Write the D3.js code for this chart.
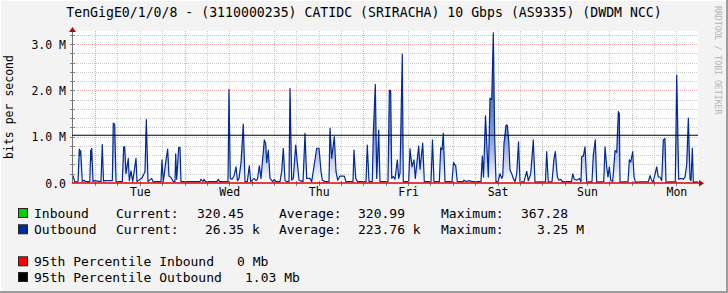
<!DOCTYPE html>
<html><head><meta charset="utf-8">
<script src="https://cdn.jsdelivr.net/npm/d3@7"></script>
<style>
html,body{margin:0;padding:0;background:#f3f3f3;}
svg{display:block;}
text{font-family:"DejaVu Sans Mono",monospace;}
</style></head><body>
<svg id="c" width="728" height="293"></svg>
<script>
// ---------------- data ----------------
const title = "TenGigE0/1/0/8 - (3110000235) CATIDC (SRIRACHA) 10 Gbps (AS9335) (DWDM NCC)";
const yAxisTitle = "bits per second";
const dayLabels = ["Tue","Wed","Thu","Fri","Sat","Sun","Mon"];
const firstMidnightHour = 6.2;   // hours after the start of the graph
const spanHours = 168;
const yTickValues = [0, 1, 2, 3];
const yTickLabels = ["0.0", "1.0 M", "2.0 M", "3.0 M"];
// outbound traffic: [hours since start, Mbit/s]
const outbound = [
[0,0.19],[0.27,0.15],[0.8,0.02],[1.61,0.03],[1.96,0.73],[2.15,0.6],[2.33,0.7],[2.76,0.03],[3.3,0.06],[3.62,0.03],
[4.78,0.03],[5.02,0.71],[5.15,0.5],[5.29,0.75],[5.64,0.03],[5.9,0.05],[7.78,0.03],[8.13,0.83],[8.45,0.04],[8.86,0.05],
[10.82,0.05],[11.08,1.29],[11.46,1.27],[11.81,0.03],[13.5,0.03],[13.87,0.78],[14.14,0.78],[14.49,0.2],[15.11,0.53],[15.38,0.05],
[15.83,0.26],[16.29,0.03],[17.18,0.53],[17.44,0.03],[18.7,0.1],[19.32,0.2],[19.59,0.25],[19.94,1.37],[20.4,0.03],[21.39,0.1],
[21.74,0.03],[23.88,0.03],[24.15,0.5],[24.5,0.03],[25.23,0.5],[25.68,0.73],[26.03,0.15],[26.57,0.12],[27.19,0.03],[27.64,0.03],
[27.83,0.63],[28.1,0.08],[28.63,0.77],[28.98,0.77],[29.25,0.03],[34.35,0.03],[34.62,0.08],[35.16,0.03],[35.42,0.08],[35.83,0.03],
[38.91,0.03],[39.26,0.08],[39.59,0.03],[41.87,0.03],[42.13,2.02],[42.48,0.1],[42.94,0.08],[43.48,0.15],[44.01,0.35],[44.42,0.05],
[44.82,0.1],[45.36,0.44],[45.97,1.27],[46.43,0.03],[47.05,0.03],[47.58,0.37],[47.96,0.03],[48.84,0.1],[49.38,0.05],[49.78,0.08],
[50.27,0.37],[50.72,0.1],[51.61,0.93],[51.98,0.86],[52.25,0.44],[52.68,0.71],[53.14,0.1],[53.86,0.03],[54.29,0.08],[54.75,0.03],
[55.82,0.03],[56.28,0.25],[56.71,0.75],[57.16,0.06],[57.62,0.03],[58.24,0.03],[58.51,2.04],[58.96,0.06],[59.39,0.1],[60.04,0.82],
[60.47,0.44],[60.93,0.06],[62.0,0.03],[62.53,1.07],[62.99,0.1],[63.87,0.1],[64.33,0.03],[65.67,0.75],[66.29,0.75],[66.83,0.25],
[67.18,0.06],[67.9,0.03],[68.97,0.03],[69.24,1.18],[69.7,0.53],[70.4,1.0],[70.85,0.25],[71.31,0.06],[71.93,0.15],[73.08,0.15],
[73.53,0.03],[75.41,0.03],[75.68,0.71],[76.14,0.1],[76.62,0.03],[78.9,0.03],[79.25,0.82],[79.71,0.03],[80.59,0.03],[80.86,1.07],
[81.4,2.13],[81.78,0.1],[82.31,1.14],[82.66,0.03],[84.81,0.03],[85.16,2.0],[85.53,2.0],[85.8,0.1],[86.23,0.14],[86.69,0.08],
[87.3,0.5],[87.68,0.1],[88.02,0.21],[88.64,2.78],[88.91,0.03],[90.36,0.03],[90.71,0.74],[91.24,0.35],[91.78,0.5],[92.13,0.1],
[93.04,0.8],[93.39,0.3],[94.12,0.86],[94.55,0.03],[96.35,0.03],[96.75,0.93],[97.15,0.03],[98.58,0.03],[98.95,0.76],[99.3,0.72],
[99.65,1.07],[100.1,0.03],[101.98,0.03],[102.39,0.44],[102.98,0.37],[103.4,0.03],[104.93,0.03],[105.2,0.06],[105.74,0.03],[106.54,0.05],
[107.35,0.03],[109.76,0.03],[110.11,0.58],[110.43,0.13],[110.97,1.45],[111.46,0.61],[111.73,0.13],[112.18,1.83],[112.64,1.8],[113.07,3.24],
[113.44,0.97],[113.79,0.02],[114.33,0.03],[114.87,0.2],[115.33,0.1],[115.6,0.15],[115.94,0.86],[116.48,1.25],[116.83,1.25],[117.21,0.9],
[117.55,0.28],[118.01,0.2],[118.44,0.1],[118.9,0.03],[119.35,0.2],[119.83,0.89],[120.23,0.02],[121.3,0.03],[122.03,0.25],[122.46,0.05],
[123.1,0.2],[123.8,0.93],[124.26,0.02],[127.07,0.03],[127.39,0.68],[127.82,0.02],[128.82,0.03],[129.36,0.53],[129.71,0.68],[130.25,0.13],
[130.71,0.06],[131.16,0.08],[131.59,0.03],[134.06,0.03],[134.38,0.2],[134.81,0.08],[135.45,0.06],[136.15,0.1],[136.6,0.03],[136.79,0.57],
[137.22,0.58],[137.68,0.78],[138.13,0.02],[139.55,0.03],[139.9,0.6],[140.44,0.93],[140.82,0.02],[142.7,0.03],[143.05,0.78],[143.5,0.35],
[143.85,0.13],[144.2,0.35],[144.58,0.06],[145.11,0.03],[145.73,0.7],[146.19,0.66],[146.62,1.54],[146.88,1.5],[147.07,0.02],[149.22,0.03],
[149.57,0.5],[149.94,0.45],[150.48,0.68],[150.83,0.13],[151.18,0.02],[154.67,0.03],[155.13,0.16],[155.58,0.05],[156.0,0.03],[156.92,0.35],
[157.35,0.13],[157.8,0.13],[158.26,0.05],[158.69,0.93],[159.14,0.96],[159.41,0.02],[161.91,0.03],[162.29,2.33],[162.82,0.08],[163.44,0.1],
[164.06,0.08],[164.52,0.13],[164.97,0.4],[165.41,1.4],[165.87,0.08],[166.13,0.05],[166.48,0.75],[166.75,0.02],[168.0,0.026]
];
// inbound traffic is ~320 bit/s (Mbit/s here)
const inbound = [[0,0.00032],[168,0.00032]];
const pct95Inbound = 0;      // Mb
const pct95Outbound = 1.03;  // Mb
const statLabels = ["Current:", "Average:", "Maximum:"];
const inboundStats = ["320.45", "320.99", "367.28"];
const outboundStats = ["26.35 k", "223.76 k", "3.25 M"];
const seriesNames = ["Inbound", "Outbound"];
const pctNames = ["95th Percentile Inbound", "95th Percentile Outbound"];
const pctTexts = ["0 Mb", "1.03 Mb"];
const colors = {inbound:"#00CF00", outbound:"#002A97", pctIn:"#FF0000", pctOut:"#000000"};

// ---------------- layout ----------------
const W = 728, H = 293;
const L = 72, R = 698, T = 31, B = 183;
const svg = d3.select("#c");

svg.append("rect").attr("x",0).attr("y",0).attr("width",W).attr("height",H).attr("fill","#f3f3f3");
// 3D frame
svg.append("rect").attr("x",0).attr("y",H-2).attr("width",W).attr("height",2).attr("fill","#9c9c9c");
svg.append("rect").attr("x",W-2).attr("y",0).attr("width",2).attr("height",H).attr("fill","#9c9c9c");
svg.append("rect").attr("x",0).attr("y",0).attr("width",W-2).attr("height",1).attr("fill","#ffffff");
svg.append("rect").attr("x",0).attr("y",0).attr("width",1).attr("height",H-2).attr("fill","#ffffff");

const x = d3.scaleLinear().domain([0, spanHours]).range([L, R]);
const y = d3.scaleLinear().domain([0, 3.28]).range([B, T]);

// plot background
svg.append("rect").attr("x",L).attr("y",T).attr("width",R-L).attr("height",B-T).attr("fill","#ffffff");

// grid
const g = svg.append("g").attr("shape-rendering","crispEdges");
const minorY = d3.range(1,17).map(i=>i*0.2).filter(v=>Math.abs(v-Math.round(v))>1e-6);
const majorY = [1,2,3];
minorY.forEach(v=>{
  g.append("line").attr("x1",L).attr("x2",R).attr("y1",Math.round(y(v))+0.5).attr("y2",Math.round(y(v))+0.5)
   .attr("stroke","#c8c8c8").attr("stroke-dasharray","1,1");
});
const vMinor = [], vMajor = [];
for (let h = firstMidnightHour - 6; h < spanHours; h += 6) {
  if (h < 1) continue;
  const k = Math.round((h - firstMidnightHour)/6);
  if (k % 4 === 0) vMajor.push(h); else vMinor.push(h);
}
vMinor.forEach(h=>{
  g.append("line").attr("x1",Math.round(x(h))+0.5).attr("x2",Math.round(x(h))+0.5).attr("y1",T).attr("y2",B)
   .attr("stroke","#c8c8c8").attr("stroke-dasharray","1,1");
});
majorY.forEach(v=>{
  g.append("line").attr("x1",L).attr("x2",R).attr("y1",Math.round(y(v))+0.5).attr("y2",Math.round(y(v))+0.5)
   .attr("stroke","#eaa8a8").attr("stroke-dasharray","1,1");
});
vMajor.forEach(h=>{
  g.append("line").attr("x1",Math.round(x(h))+0.5).attr("x2",Math.round(x(h))+0.5).attr("y1",T).attr("y2",B)
   .attr("stroke","#eaa8a8").attr("stroke-dasharray","1,1");
});

// gradient for outbound area
const defs = svg.append("defs");
const grad = defs.append("linearGradient").attr("id","og").attr("gradientUnits","userSpaceOnUse")
  .attr("x1",0).attr("y1",B).attr("x2",0).attr("y2",T);
grad.append("stop").attr("offset","0").attr("stop-color","#ffffff");
grad.append("stop").attr("offset","0.3").attr("stop-color","#8a9ed6");
grad.append("stop").attr("offset","1").attr("stop-color","#12359f");

// inbound (green, tiny)
svg.append("path").datum(inbound)
  .attr("d", d3.area().x(d=>x(d[0])).y0(y(0)).y1(d=>y(d[1])))
  .attr("fill", colors.inbound);

// outbound area + line
svg.append("path").datum(outbound)
  .attr("d", d3.area().x(d=>x(d[0])).y0(y(0)).y1(d=>y(d[1])))
  .attr("fill","url(#og)");
svg.append("path").datum(outbound)
  .attr("d", d3.line().x(d=>x(d[0])).y(d=>y(d[1])))
  .attr("fill","none").attr("stroke",colors.outbound).attr("stroke-width",1.2).attr("stroke-linejoin","round");

// y axis line + ticks
svg.append("line").attr("x1",L+0.5).attr("x2",L+0.5).attr("y1",B).attr("y2",T-2)
  .attr("stroke","#707070").attr("shape-rendering","crispEdges");
d3.range(1,17).map(i=>i*0.2).forEach(v=>{
  svg.append("line").attr("x1",L-2).attr("x2",L+3).attr("y1",Math.round(y(v))+0.5).attr("y2",Math.round(y(v))+0.5)
   .attr("stroke","#808080").attr("shape-rendering","crispEdges");
});
vMinor.concat(vMajor).forEach(h=>{
  svg.append("line").attr("x1",Math.round(x(h))+0.5).attr("x2",Math.round(x(h))+0.5).attr("y1",B-2).attr("y2",B+3)
   .attr("stroke","#808080").attr("shape-rendering","crispEdges");
});

// percentile lines
svg.append("line").attr("x1",L).attr("x2",R).attr("y1",y(pct95Outbound)).attr("y2",y(pct95Outbound))
  .attr("stroke",colors.pctOut).attr("stroke-width",1.2);
svg.append("line").attr("x1",L).attr("x2",R+2).attr("y1",y(pct95Inbound)).attr("y2",y(pct95Inbound))
  .attr("stroke","#e00000").attr("stroke-width",1.6);

// arrows
svg.append("path").attr("d",`M${L-3},${T+1}L${L+4},${T+1}L${L+0.5},${T-4}Z`).attr("fill","#a01010");
svg.append("path").attr("d",`M${R+1},${B-3}L${R+1},${B+3.5}L${R+6},${B+0.25}Z`).attr("fill","#a01010");

// axes labels via d3 axes
const yAxis = d3.axisLeft(y).tickValues(yTickValues).tickSize(0).tickPadding(0)
  .tickFormat((d,i)=>yTickLabels[i]);
const ya = svg.append("g").attr("transform",`translate(${L-6},0)`).call(yAxis);
ya.select(".domain").remove();
ya.selectAll("text").attr("font-family","DejaVu Sans Mono").attr("font-size","11.5px").attr("fill","#000").attr("dy","0.36em");

const dayCenters = dayLabels.map((d,i)=>firstMidnightHour + 24*i + 12);
const xAxis = d3.axisBottom(x).tickValues(dayCenters).tickSize(0).tickPadding(0)
  .tickFormat((d,i)=>dayLabels[i]);
const xa = svg.append("g").attr("transform",`translate(0,${B+5})`).call(xAxis);
xa.select(".domain").remove();
xa.selectAll("text").attr("font-family","DejaVu Sans Mono").attr("font-size","11.5px").attr("fill","#000").attr("dy","0.71em");

// title
svg.append("text").attr("x",364).attr("y",17.3).attr("text-anchor","middle")
  .attr("font-size","13.2px").attr("fill","#000").text(title);
// y title
svg.append("text").attr("transform","translate(13,107) rotate(-90)").attr("text-anchor","middle")
  .attr("font-size","11.5px").attr("fill","#000").text(yAxisTitle);
// watermark
svg.append("text").attr("transform","translate(714.5,6) rotate(90)").attr("text-anchor","start")
  .attr("font-size","8.2px").attr("fill","#b4b4b4").text("RRDTOOL / TOBI OETIKER");

// legend
const lf = "13px";
function box(yTop, color){
  svg.append("rect").attr("x",18.5).attr("y",yTop+0.5).attr("width",9).attr("height",9)
    .attr("fill",color).attr("stroke","#222").attr("stroke-width",1);
}
function txt(xp, yp, s){
  svg.append("text").attr("x",xp).attr("y",yp).attr("font-size",lf).attr("fill","#000")
    .attr("xml:space","preserve").style("white-space","pre").text(s);
}
const rowY = [217.7, 234, 266, 281.7];
box(rowY[0]-9.7, colors.inbound);
box(rowY[1]-9.7, colors.outbound);
box(rowY[2]-9.7, colors.pctIn);
box(rowY[3]-9.7, colors.pctOut);
txt(34, rowY[0], seriesNames[0]);
txt(34, rowY[1], seriesNames[1]);
const statX = [116, 279, 441];
statLabels.forEach((s,i)=>{ txt(statX[i], rowY[0], s); txt(statX[i], rowY[1], s); });
const inValX = [197, 358, 521];
const outValX = [205, 358, 537];
inboundStats.forEach((s,i)=>txt(inValX[i], rowY[0], s));
outboundStats.forEach((s,i)=>txt(outValX[i], rowY[1], s));
txt(34, rowY[2], pctNames[0]); txt(237, rowY[2], pctTexts[0]);
txt(34, rowY[3], pctNames[1]); txt(245, rowY[3], pctTexts[1]);
</script>
</body></html>
